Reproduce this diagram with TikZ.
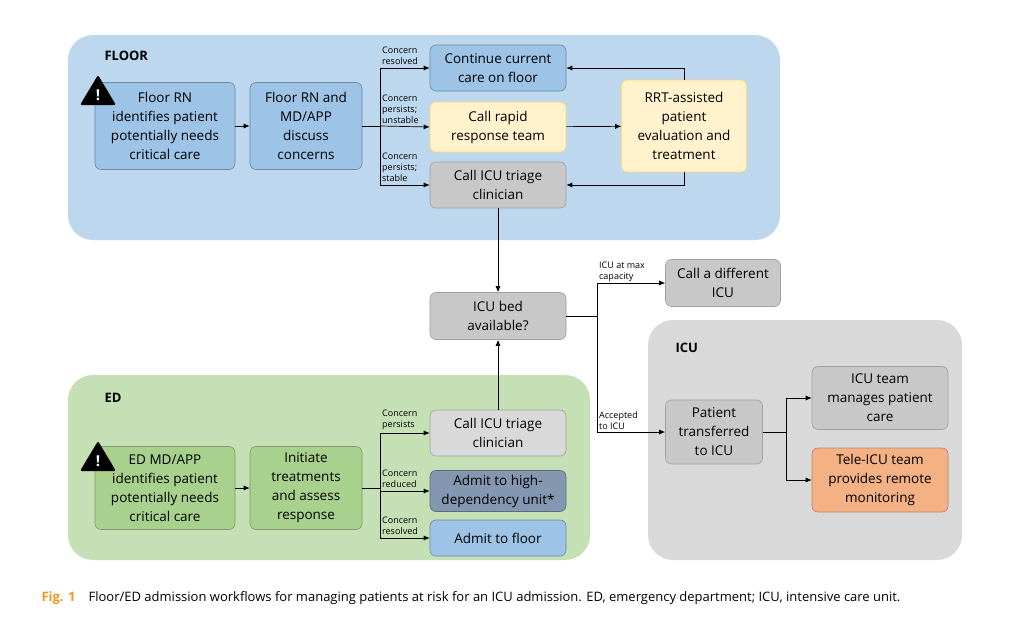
\documentclass[tikz,border=0pt]{standalone}
\usepackage{fontspec}
\setmainfont{Open Sans}
\usetikzlibrary{arrows.meta}
\definecolor{floorbg}{RGB}{189,215,238}
\definecolor{edbg}{RGB}{197,224,180}
\definecolor{icubg}{RGB}{217,217,217}
\definecolor{bluebox}{RGB}{157,195,230}
\definecolor{yelbox}{RGB}{255,242,204}
\definecolor{yelline}{RGB}{255,217,102}
\definecolor{graybox}{RGB}{200,200,200}
\definecolor{greenbox}{RGB}{169,209,142}
\definecolor{hdubox}{RGB}{132,151,176}
\definecolor{orabox}{RGB}{244,177,131}
\definecolor{figorange}{RGB}{240,150,30}
\begin{document}
\begin{tikzpicture}[x=1pt,y=-1pt,
  box/.style={draw, rounded corners=6pt, align=center, inner sep=2pt,
    font=\fontsize{13.5}{19}\selectfont, line width=0.6pt},
  bluestep/.style={box, fill=bluebox, draw=bluebox!70!black},
  yelstep/.style={box, fill=yelbox, draw=yelline},
  graystep/.style={box, fill=graybox, draw=graybox!80!black},
  greenstep/.style={box, fill=greenbox, draw=greenbox!75!black},
  arr/.style={-{Latex[length=6pt,width=5pt]}, line width=0.7pt},
  lbl/.style={font=\fontsize{9}{11}\selectfont, align=left, inner sep=1pt, anchor=south west},
  region/.style={rounded corners=25pt},
  warn/.style={fill=black, rounded corners=2pt}]
\useasboundingbox (0,0) rectangle (1024,627);
\fill[white] (0,0) rectangle (1024,627);
% regions
\fill[region, fill=floorbg] (68,35) rectangle (780,240);
\fill[region, fill=edbg] (68,375) rectangle (590,560);
\fill[region, fill=icubg] (648,320) rectangle (962,560);
\node[font=\bfseries\fontsize{13}{15}\selectfont, anchor=west] (floortitle) at (101,56) {FLOOR};
\node[font=\bfseries\fontsize{13}{15}\selectfont, anchor=west] (edtitle) at (101,398) {ED};
\node[font=\bfseries\fontsize{13}{15}\selectfont, anchor=west] (icutitle) at (672,348) {ICU};
% floor
\node[bluestep, minimum width=140pt, minimum height=87pt] (floorrn) at (165,126) {Floor RN\\identifies patient\\potentially needs\\critical care};
\node[bluestep, minimum width=112pt, minimum height=87pt] (floordisc) at (306,126) {Floor RN and\\MD/APP\\discuss\\concerns};
\node[bluestep, minimum width=136pt, minimum height=46pt] (continue) at (498,68) {Continue current\\care on floor};
\node[yelstep, minimum width=136pt, minimum height=50pt] (rapid) at (498,127) {Call rapid\\response team};
\node[graystep, minimum width=136pt, minimum height=46pt] (triage) at (498,185) {Call ICU triage\\clinician};
\node[yelstep, minimum width=125pt, minimum height=92pt] (rrt) at (684,126) {RRT-assisted\\patient\\evaluation and\\treatment};
% middle
\node[graystep, minimum width=136pt, minimum height=47pt] (bed) at (498,316) {ICU bed\\available?};
\node[graystep, minimum width=115pt, minimum height=47pt] (other) at (723,283) {Call a different\\ICU};
% icu
\node[graystep, minimum width=97pt, minimum height=64pt] (transfer) at (714,432) {Patient\\transferred\\to ICU};
\node[graystep, minimum width=136pt, minimum height=63pt] (manage) at (880,398) {ICU team\\manages patient\\care};
\node[box, fill=orabox, draw=orabox!75!black, minimum width=136pt, minimum height=64pt] (tele) at (880,480) {Tele-ICU team\\provides remote\\monitoring};
% ed
\node[greenstep, minimum width=140pt, minimum height=83pt] (edrn) at (165,488) {ED MD/APP\\identifies patient\\potentially needs\\critical care};
\node[greenstep, minimum width=112pt, minimum height=83pt] (initiate) at (306,488) {Initiate\\treatments\\and assess\\response};
\node[graystep, fill=icubg, minimum width=136pt, minimum height=46pt] (edtriage) at (498,433) {Call ICU triage\\clinician};
\node[box, fill=hdubox, draw=hdubox!70!black, minimum width=136pt, minimum height=41pt] (hdu) at (498,491) {Admit to high-\\dependency unit*};
\node[bluestep, minimum width=136pt, minimum height=36pt] (edfloor) at (498,538) {Admit to floor};
% warning signs
\foreach \wy [count=\i] in {92,458} {
  \fill[warn] (98,\wy-17) -- (116,\wy+13) -- (80,\wy+13) -- cycle;
  \node[text=white, font=\bfseries\fontsize{15}{15}\selectfont] (warn\i) at (98,\wy+3) {!};
}
% floor connectors
\coordinate (fsplit) at (380,126);
\draw[arr] (floorrn) -- (floordisc);
\draw[line width=0.7pt] (floordisc.east) -- (fsplit);
\draw[arr] (fsplit) |- (continue.west);
\draw[arr] (fsplit) -- (rapid.west);
\draw[arr] (fsplit) |- (triage.west);
\node[lbl] (l1) at (381,66) {Concern\\resolved};
\node[lbl] (l2) at (381,125) {Concern\\persists;\\unstable};
\node[lbl] (l3) at (381,183) {Concern\\persists;\\stable};
\draw[arr] (rapid) -- (rrt);
\draw[arr] (rrt.north) |- (continue.east);
\draw[arr] (rrt.south) |- (triage.east);
\draw[arr] (triage) -- (bed);
% bed connectors
\coordinate (bsplit) at (597,316);
\draw[line width=0.7pt] (bed.east) -- (bsplit);
\draw[arr] (bsplit) |- (other.west);
\draw[arr] (bsplit) |- (transfer.west);
\node[lbl] (l4) at (598,283) {ICU at max\\capacity};
\node[lbl] (l5) at (598,431) {Accepted\\to ICU};
% icu connectors
\coordinate (isplit) at (786,432);
\draw[line width=0.7pt] (transfer.east) -- (isplit);
\draw[arr] (isplit) |- (manage.west);
\draw[arr] (isplit) |- (tele.west);
% ed connectors
\coordinate (esplit) at (380,488);
\draw[arr] (edrn) -- (initiate);
\draw[line width=0.7pt] (initiate.east) -- (esplit);
\draw[arr] (esplit) |- (edtriage.west);
\draw[arr] (esplit) |- (hdu.west);
\draw[arr] (esplit) |- (edfloor.west);
\node[lbl] (l6) at (381,431) {Concern\\persists};
\node[lbl] (l7) at (381,489) {Concern\\reduced};
\node[lbl] (l8) at (381,536) {Concern\\resolved};
\draw[arr] (edtriage) -- (bed);
% caption
\node[anchor=west, font=\fontsize{13}{15}\selectfont] (caption) at (38,598)
  {\textcolor{figorange}{\bfseries Fig. 1}\quad Floor/ED admission workflows for managing patients at risk for an ICU admission. ED, emergency department; ICU, intensive care unit.};
\end{tikzpicture}
\end{document}
